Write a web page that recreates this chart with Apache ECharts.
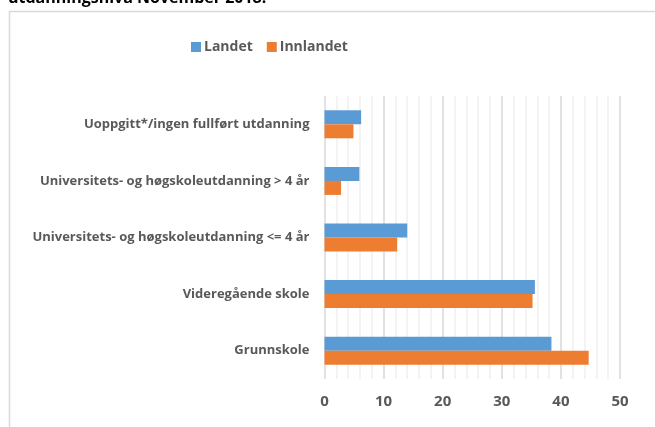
<!DOCTYPE html>
<html lang="no">
<head>
    <meta charset="UTF-8">
    <title>Utdanningsnivå November 2018</title>
    <script type="text/javascript" src="https://cdn.jsdelivr.net/npm/echarts@6/dist/echarts.min.js"></script>
    <style>
        html, body { margin: 0; padding: 0; background: #fff; }
    </style>
</head>
<body>
<div id="bar-utd" style="width: 655px;height: 427px"></div>
<script type="text/javascript">
    // data lest av figuren (prosent)
    var kategorier = [
        'Uoppgitt*/ingen fullført utdanning',
        'Universitets- og høgskoleutdanning > 4 år',
        'Universitets- og høgskoleutdanning <= 4 år',
        'Videregående skole',
        'Grunnskole'
    ]
    var landet = [6.2, 5.9, 14.0, 35.6, 38.4]
    var innlandet = [4.9, 2.8, 12.3, 35.2, 44.7]
    var xTicks = [0, 10, 20, 30, 40, 50]

    var chartDom = document.getElementById('bar-utd');
    var myChart = echarts.init(chartDom);
    var font = '"Open Sans", "DejaVu Sans", sans-serif';

    option = {
        color: ['#5B9BD5', '#ED7D31'],
        animation: false,
        textStyle: { fontFamily: font },
        graphic: [
            {
                type: 'rect',
                left: 7, top: 9,
                shape: { width: 700, height: 500 },
                style: { fill: 'none', stroke: '#d9d9d9', lineWidth: 1.5 },
                z: -10
            },
            {
                type: 'text',
                left: 8, top: -10,
                style: {
                    text: 'utdanningsnivå November 2018.',
                    fontFamily: font,
                    fontSize: 16,
                    fontWeight: 'bold',
                    fill: '#000'
                }
            }
        ],
        legend: {
            top: 35,
            left: 186,
            itemWidth: 10,
            itemHeight: 10,
            itemGap: 14,
            icon: 'rect',
            textStyle: { color: '#595959', fontSize: 14, fontWeight: 'bold', fontFamily: font, padding: [0, 0, 0, -2] }
        },
        grid: {
            left: 324.5,
            right: 35,
            top: 96,
            bottom: 48,
            containLabel: false
        },
        xAxis: {
            type: 'value',
            min: xTicks[0],
            max: xTicks[xTicks.length - 1],
            interval: 10,
            axisLine: { show: false },
            axisTick: { show: false },
            axisLabel: {
                color: '#595959',
                fontSize: 15,
                fontWeight: 'bold',
                fontFamily: font,
                margin: 15
            },
            splitLine: { show: true, lineStyle: { color: '#d9d9d9', width: 1.5 } },
            minorTick: { show: false, splitNumber: 5 },
            minorSplitLine: { show: true, lineStyle: { color: '#f0f0f0', width: 1.5 } }
        },
        yAxis: {
            type: 'category',
            inverse: true,
            data: kategorier,
            axisLine: { show: false },
            axisTick: { show: false },
            axisLabel: {
                color: '#595959',
                fontSize: 13,
                fontWeight: 'bold',
                fontFamily: font,
                margin: 15
            }
        },
        series: [
            {
                name: 'Landet',
                type: 'bar',
                data: landet,
                barWidth: 14,
                barGap: '0%'
            },
            {
                name: 'Innlandet',
                type: 'bar',
                data: innlandet,
                barWidth: 14,
                barGap: '0%'
            }
        ]
    };
    option && myChart.setOption(option);
</script>
</body>
</html>
